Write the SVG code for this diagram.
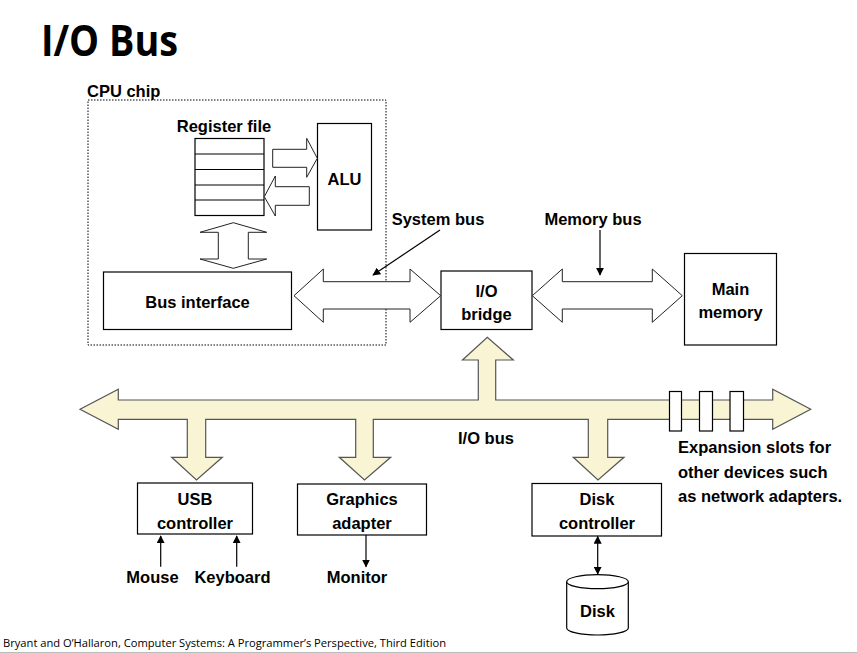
<svg xmlns="http://www.w3.org/2000/svg" width="857" height="653" viewBox="0 0 857 653">
<style>
.lbl{font-family:"Liberation Sans",Arial,sans-serif;font-weight:bold;font-size:16.5px;fill:#000;text-anchor:middle}
.box{fill:#fff;stroke:#000;stroke-width:1.2}
.wa{fill:#fff;stroke:#222;stroke-width:1}
.thin{stroke:#000;stroke-width:1.2;fill:none}
</style>
<defs>
<marker id="ah" viewBox="0 0 10 10" refX="9" refY="5" markerWidth="8" markerHeight="8" markerUnits="userSpaceOnUse" orient="auto-start-reverse">
<path d="M0,0 L10,5 L0,10 z" fill="#000"/>
</marker>
</defs>
<rect width="857" height="653" fill="#fff"/>
<text x="41" y="56" font-family="'Open Sans',sans-serif" font-weight="bold" font-size="43" textLength="137" lengthAdjust="spacingAndGlyphs">I/O Bus</text>

<g id="cpu-chip">
<rect x="88" y="100" width="298" height="245" fill="none" stroke="#000" stroke-width="1" stroke-dasharray="1.5,1.5"/>
<text class="lbl" x="87" y="97" style="text-anchor:start">CPU chip</text>
</g>

<g id="register-file">
<text class="lbl" x="224" y="132">Register file</text>
<rect class="box" x="195" y="138.5" width="69" height="77"/>
<path class="thin" d="M195,154 H264 M195,169.5 H264 M195,185 H264 M195,200 H264" stroke-width="1"/>
</g>

<g id="alu">
<rect class="box" x="317.5" y="123.5" width="54" height="106.5"/>
<text class="lbl" x="344.5" y="185">ALU</text>
</g>

<g id="bus-interface">
<rect class="box" x="103.5" y="272" width="188" height="57.5"/>
<text class="lbl" x="197.5" y="308">Bus interface</text>
</g>

<g id="io-bridge">
<rect class="box" x="441" y="271" width="91" height="58.5"/>
<text class="lbl" x="486.5" y="297">I/O</text>
<text class="lbl" x="486.5" y="320">bridge</text>
</g>

<g id="main-memory">
<rect class="box" x="684.5" y="253.5" width="92" height="91.5"/>
<text class="lbl" x="730.5" y="295">Main</text>
<text class="lbl" x="730.5" y="318">memory</text>
</g>

<g id="usb-controller">
<rect class="box" x="137.5" y="483" width="115" height="51"/>
<text class="lbl" x="195" y="505">USB</text>
<text class="lbl" x="195" y="529">controller</text>
</g>

<g id="graphics-adapter">
<rect class="box" x="297.5" y="484" width="129" height="51"/>
<text class="lbl" x="362" y="505">Graphics</text>
<text class="lbl" x="362" y="529">adapter</text>
</g>

<g id="disk-controller">
<rect class="box" x="532" y="483.5" width="129.5" height="52.5"/>
<text class="lbl" x="597" y="505">Disk</text>
<text class="lbl" x="597" y="529">controller</text>
</g>

<g id="disk">
<path d="M566.7,581.7 V628 A30.8,7 0 0 0 628.3,628 V581.7" fill="#fff" stroke="#000" stroke-width="1.2"/>
<ellipse cx="597.5" cy="581.7" rx="30.8" ry="7" fill="#fff" stroke="#000" stroke-width="1.2"/>
<text class="lbl" x="597.5" y="617">Disk</text>
</g>

<g id="mouse"><text class="lbl" x="152.5" y="583">Mouse</text></g>
<g id="keyboard"><text class="lbl" x="232.5" y="583">Keyboard</text></g>
<g id="monitor"><text class="lbl" x="357" y="583">Monitor</text></g>

<g id="labels">
<text class="lbl" x="438" y="225">System bus</text>
<text class="lbl" x="593" y="225">Memory bus</text>
<text class="lbl" x="486" y="444">I/O bus</text>
<text class="lbl" x="678" y="453" style="text-anchor:start">Expansion slots for</text>
<text class="lbl" x="678" y="478" style="text-anchor:start">other devices such</text>
<text class="lbl" x="678" y="502" style="text-anchor:start">as network adapters.</text>
</g>

<g id="connectors">
<path class="wa" d="M272.7,149.3 H306.7 V138.3 L317.3,158.3 L306.7,177.3 V167.3 H272.7 Z"/>
<path class="wa" d="M309.3,186.7 H275.3 V176 L264.3,196.7 L275.3,216 V205.3 H309.3 Z"/>
<path class="wa" d="M233.3,222.7 L266.7,232.3 H248.3 V259 H266.7 L233.3,268.3 L200,259 H218.3 V232.3 H200 Z"/>
<path class="wa" d="M294,295.7 L323.3,269 V281.7 H410 V269 L440.7,295.7 L410,322.3 V309 H323.3 V322.3 Z"/>
<path class="wa" d="M532.3,295.7 L562.3,269 V281.7 H652.3 V269 L682.3,295.7 L652.3,322.3 V309 H562.3 V322.3 Z"/>
<path d="M80,409.3 L118.3,389.3 V400 H478.3 V360 H462.5 L487.3,337.3 L513.3,360 H495.7 V400 H772.7 V389.3 L810.7,409.3 L772.7,429.3 V419.3 H607.7 V457.3 H624 L598,480 L573.3,457.3 H588.3 V419.3 H373.3 V457.3 H390.7 L364.5,480 L339.3,457.3 H355.7 V419.3 H205.7 V457.3 H222.3 L196.5,480 L171.7,457.3 H187.3 V419.3 H118.3 V429.3 Z" fill="#F8F4D4" stroke="#555" stroke-width="1.2" stroke-linejoin="miter"/>
<rect class="box" x="669.5" y="391.5" width="12" height="39.5"/>
<rect class="box" x="699.5" y="391.5" width="13" height="39.5"/>
<rect class="box" x="730" y="391.5" width="13.5" height="39.5"/>
<line class="thin" x1="440" y1="230" x2="373" y2="275" marker-end="url(#ah)"/>
<line class="thin" x1="600" y1="230" x2="600" y2="275" marker-end="url(#ah)"/>
<line class="thin" x1="160.7" y1="566.7" x2="160.7" y2="536" marker-end="url(#ah)"/>
<line class="thin" x1="236.7" y1="566.7" x2="236.7" y2="536" marker-end="url(#ah)"/>
<line class="thin" x1="366" y1="535" x2="366" y2="566.7" marker-end="url(#ah)"/>
<line class="thin" x1="597.7" y1="536.5" x2="597.7" y2="574" marker-start="url(#ah)" marker-end="url(#ah)"/>
</g>

<text x="3" y="647" font-family="'Open Sans',sans-serif" font-size="11.5" fill="#000" textLength="443" lengthAdjust="spacingAndGlyphs">Bryant and O’Hallaron, Computer Systems: A Programmer’s Perspective, Third Edition</text>
<line x1="0" y1="652.5" x2="857" y2="652.5" stroke="#bbb" stroke-width="1"/>
</svg>
